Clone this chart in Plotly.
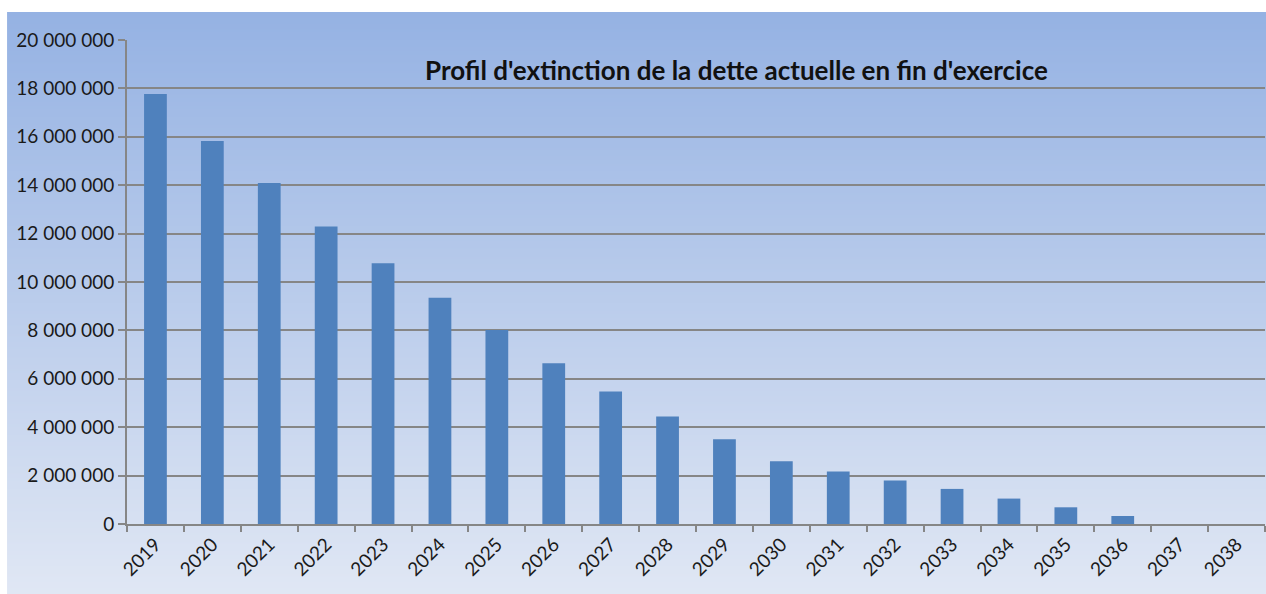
import plotly.graph_objects as go
import base64, zlib, struct

years = [str(y) for y in range(2019, 2039)]
values = [17.77e6, 15.83e6, 14.09e6, 12.29e6, 10.77e6, 9.35e6, 8.02e6, 6.64e6,
          5.48e6, 4.44e6, 3.50e6, 2.59e6, 2.17e6, 1.80e6, 1.45e6, 1.05e6,
          0.69e6, 0.33e6, 0, 0]
ytick_vals = list(range(0, 20000001, 2000000))
ytick_text = ["{:,}".format(v).replace(",", " ") for v in ytick_vals]
title = "Profil d'extinction de la dette actuelle en fin d'exercice"

W, H = 1266, 594
L, R, T, B = 127, 1265, 40, 524  # plot area pixel bounds
FONT = "Lato, Open Sans, sans-serif"

fig = go.Figure(go.Bar(x=years, y=values, marker=dict(color="#4F81BD", line=dict(width=0)),
                       width=0.4))

fig.update_layout(
    width=W, height=H,
    margin=dict(l=L, r=W - R, t=T, b=H - B, autoexpand=False),
    paper_bgcolor="white",
    plot_bgcolor="rgba(0,0,0,0)",
    showlegend=False,
    font=dict(family=FONT, color="#1a1a1a"),
    annotations=[dict(text="<b>" + title + "</b>", xref="paper", yref="paper",
                      x=(736 - L) / (R - L), y=1 - (70 - T) / (B - T),
                      xanchor="center", yanchor="middle", showarrow=False,
                      font=dict(size=26, family=FONT, color="#111"))],
)

fig.update_xaxes(
    type="category", showgrid=False, showline=True, linecolor="#868686", linewidth=2,
    ticks="outside", tickson="boundaries", ticklen=6, tickcolor="#868686", tickwidth=2,
    tickangle=-45, tickfont=dict(size=19), range=[-0.5, 19.5],
)
fig.update_yaxes(
    range=[0, 20000000], tickvals=ytick_vals, ticktext=ytick_text,
    showgrid=True, gridcolor="#868686", gridwidth=2,
    showline=True, linecolor="#868686", linewidth=2,
    ticks="outside", ticklen=7, tickcolor="#868686", tickwidth=2,
    tickfont=dict(size=19), zeroline=False,
)

# gradient chart-area background as an embedded PNG
top_c = (149, 178, 227)
bot_c = (224, 231, 244)

def png_gradient(w, h, c1, c2, top_white, left_white):
    rows = []
    for yy in range(h):
        row = bytearray([0])
        if yy < top_white:
            row += bytes([255, 255, 255]) * w
        else:
            t = (yy - top_white) / max(1, (h - 1 - top_white))
            c = bytes(int(round(c1[k] + (c2[k] - c1[k]) * t)) for k in range(3))
            row += bytes([255, 255, 255]) * left_white + c * (w - left_white)
        rows.append(bytes(row))
    raw = b"".join(rows)
    def chunk(tag, data):
        return struct.pack(">I", len(data)) + tag + data + struct.pack(">I", zlib.crc32(tag + data) & 0xffffffff)
    png = b"\x89PNG\r\n\x1a\n" + chunk(b"IHDR", struct.pack(">IIBBBBB", w, h, 8, 2, 0, 0, 0)) \
        + chunk(b"IDAT", zlib.compress(raw, 9)) + chunk(b"IEND", b"")
    return "data:image/png;base64," + base64.b64encode(png).decode()

img = png_gradient(W, H, top_c, bot_c, 12, 7)
px0 = -L / (R - L)
px1 = (W + 4 - L) / (R - L)
py1 = 1 + T / (B - T)
py0 = -(H - B) / (B - T)
fig.add_layout_image(dict(source=img, xref="paper", yref="paper", x=px0, y=py1,
                          sizex=px1 - px0, sizey=py1 - py0, xanchor="left", yanchor="top",
                          sizing="stretch", layer="below"))

fig.write_html("out.html", config={"displayModeBar": False},
               post_script="document.body.style.margin='0';document.body.style.padding='0';document.body.style.overflow='hidden';")
